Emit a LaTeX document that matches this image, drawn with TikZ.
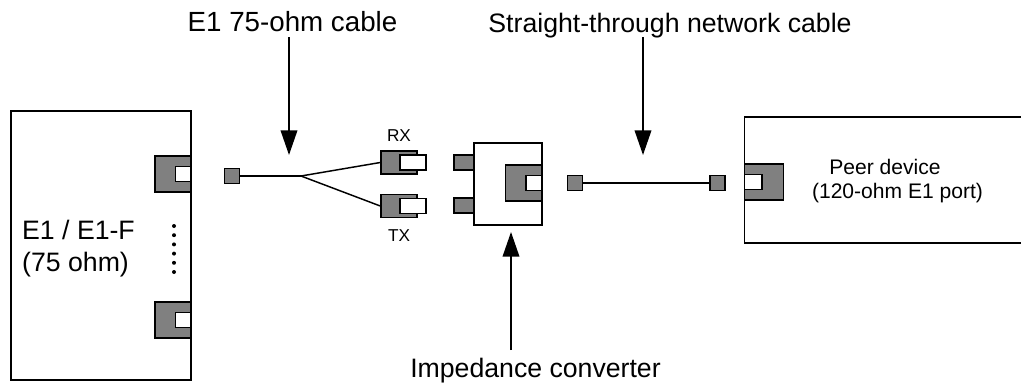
\documentclass[tikz,border=0pt]{standalone}
\usepackage{fontspec}
\setmainfont{Liberation Sans}
\usepackage{xcolor}
\usepackage{tikz}
\usetikzlibrary{arrows.meta, positioning, calc}
\definecolor{portgray}{RGB}{128, 128, 128}

\begin{document}
\begin{tikzpicture}[
    x=0.75pt, y=-0.75pt,
    line width=1.1pt,
    device/.style={rectangle, draw, fill=white, inner sep=0pt},
    port/.style={rectangle, draw, fill=portgray, inner sep=0pt, minimum width=27pt, minimum height=27pt},
    socket/.style={rectangle, draw, fill=white, inner sep=0pt, minimum width=11.5pt, minimum height=11pt},
    plug/.style={rectangle, draw, fill=portgray, inner sep=0pt, minimum width=11.5pt, minimum height=11.5pt},
    bnc/.style={rectangle, draw, fill=portgray, inner sep=0pt, minimum width=27pt, minimum height=17pt},
    bnctip/.style={rectangle, draw, fill=white, inner sep=0pt, minimum width=19.5pt, minimum height=11.5pt},
    dot/.style={circle, fill=black, inner sep=0pt, minimum size=3pt},
    arr/.style={-{Triangle[length=18.5pt, width=12.5pt]}},
    biglabel/.style={font=\fontsize{20}{24}\selectfont, anchor=base},
    midlabel/.style={font=\fontsize{15.8}{19}\selectfont},
    smalllabel/.style={font=\fontsize{12.9}{15}\selectfont}
]
    \useasboundingbox (0,0) rectangle (1021,389);

    % left device
    \node[device, minimum width=135pt, minimum height=201.75pt] (e1box) at (101,245.5) {};
    \node[port] (e1porta) at (173,174) {};
    \node[socket, anchor=east] (e1socka) at (e1porta.east) {};
    \node[port] (e1portb) at (173,320) {};
    \node[socket, anchor=east] (e1sockb) at (e1portb.east) {};
    \node[font=\fontsize{20}{24}\selectfont, align=left, anchor=west] (e1text) at (17,249) {E1 / E1-F\\(75 ohm)};
    \foreach \i in {0,...,5} {
        \node[dot] (dot\i) at (174,{226+9.2*\i}) {};
    }

    % 75-ohm cable
    \node[plug] (plugin) at (232,176) {};
    \coordinate (fork) at (301,176);
    \node[bnc] (bncrx) at (399,162.5) {};
    \node[bnctip] (tiprx) at (413,162.5) {};
    \node[bnc] (bnctx) at (399,206) {};
    \node[bnctip] (tiptx) at (413,206) {};
    \node[smalllabel, above=3pt of bncrx] (rxtext) {RX};
    \node[smalllabel, below=5pt of bnctx] (txtext) {TX};
    \draw (plugin.east) -- (fork);
    \draw (fork) -- (bncrx.west);
    \draw (fork) -- (bnctx.west);

    % converter
    \node[device, minimum width=51pt, minimum height=61.5pt] (conv) at (508,184) {};
    \node[plug, minimum width=14.5pt, anchor=east] (convrx) at (474,162.5) {};
    \node[plug, minimum width=14.5pt, anchor=east] (convtx) at (474,205.5) {};
    \node[port, anchor=east] (convport) at (542,183) {};
    \node[socket, anchor=east] (convsock) at (convport.east) {};

    % network cable
    \node[plug] (plugleft) at (575,183) {};
    \node[plug] (plugright) at (717.5,183) {};
    \draw (plugleft) -- (plugright);

    % peer device
    \node[device, minimum width=208.5pt, minimum height=94.5pt, anchor=west] (peer) at (744,180) {};
    \node[port, minimum width=29pt, anchor=west] (peerport) at (744,182) {};
    \node[socket, minimum width=13pt, anchor=west] (peersock) at (peerport.west) {};
    \node[midlabel] (peertext) at (885,167) {Peer device};
    \node[midlabel] (peertextb) at (897.5,193) {(120-ohm E1 port)};

    % labels and arrows
    \node[biglabel, font=\fontsize{20.8}{24}\selectfont] (cabletext) at (292.5,31.5) {E1 75-ohm cable};
    \node[biglabel] (nettext) at (670,32) {Straight-through network cable};
    \node[biglabel] (convtext) at (535.5,377) {Impedance converter};
    \coordinate (cabletop) at (289,37);
    \coordinate (cabletip) at (289,155);
    \coordinate (nettop) at (643,37);
    \coordinate (nettip) at (643,155);
    \coordinate (convtop) at (511,350);
    \coordinate (convtip) at (511,232);
    \draw[arr] (cabletop) -- (cabletip);
    \draw[arr] (nettop) -- (nettip);
    \draw[arr] (convtop) -- (convtip);
\end{tikzpicture}
\end{document}
